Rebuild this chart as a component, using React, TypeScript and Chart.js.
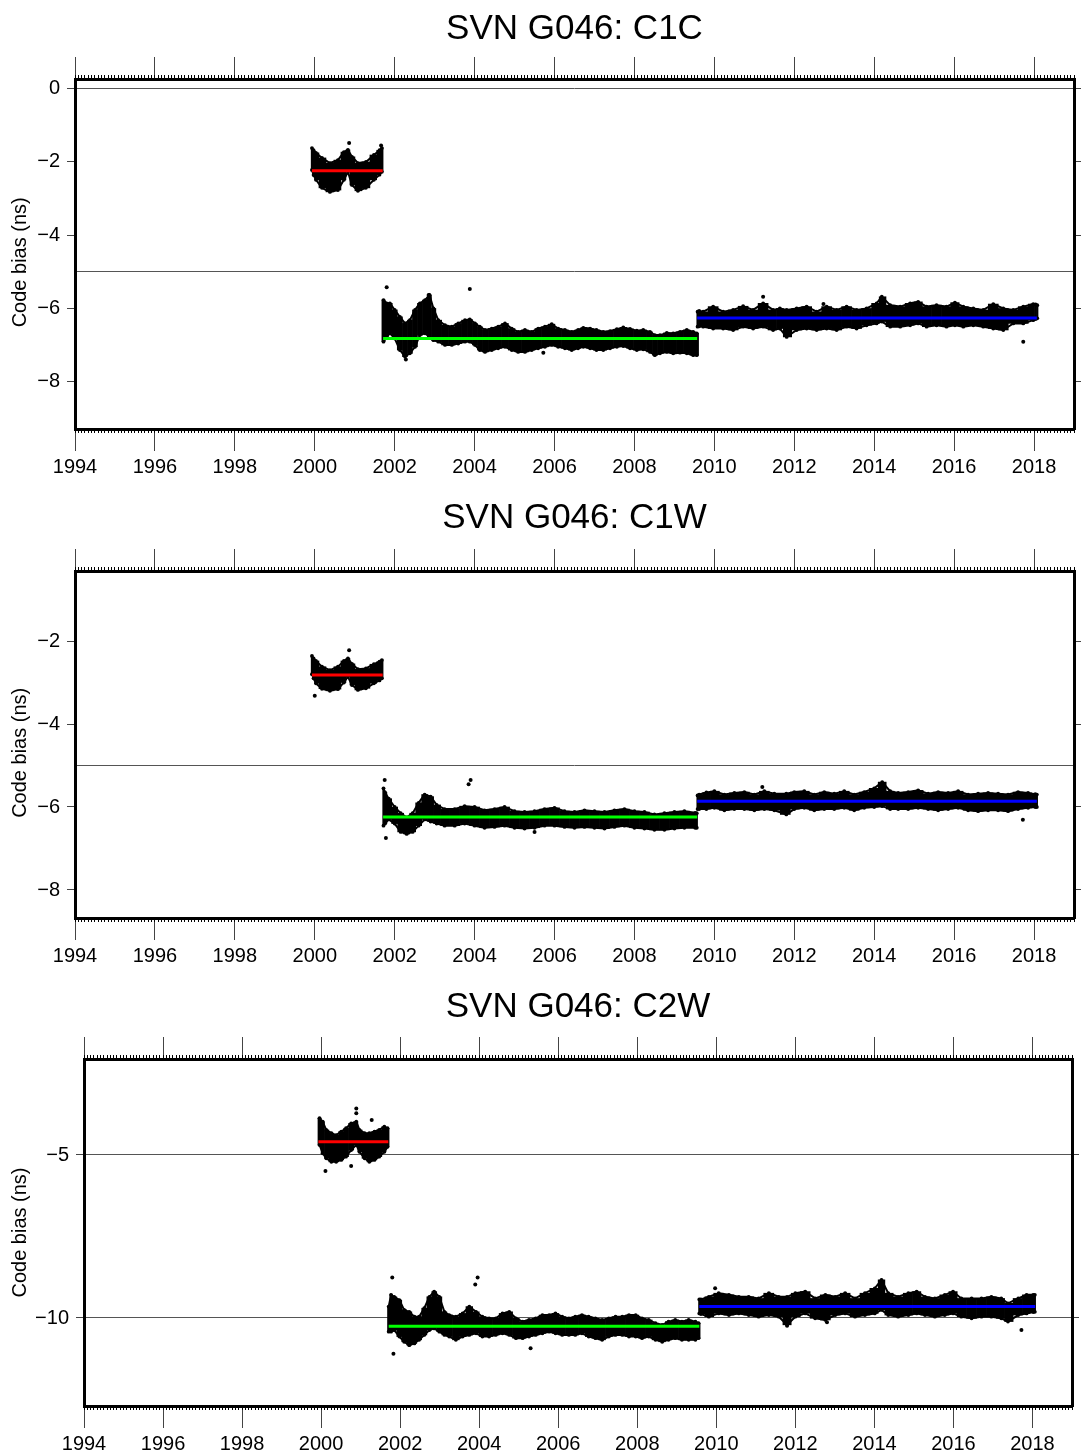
import React, { useEffect, useRef } from "react";
import { Chart, registerables } from "chart.js";
Chart.register(...registerables);

const FONT = "'Liberation Sans', Arial, Helvetica, sans-serif";
const XMIN = 1994;
const XMAX = 2019;
const xTickYears = [1994, 1996, 1998, 2000, 2002, 2004, 2006, 2008, 2010, 2012, 2014, 2016, 2018];
const segColors = ["#ff0000", "#00ff00", "#0000ff"];
const yAxisTitle = "Code bias (ns)";

// ---------- Panel 1: C1C ----------
const c1cYearA = [1999.93, 1999.97, 2000.03, 2000.18, 2000.38, 2000.58, 2000.73, 2000.83, 2000.93, 2001.08, 2001.28, 2001.48, 2001.62, 2001.68];
const c1cHiA = [-1.62, -1.68, -1.75, -1.89, -2.03, -1.95, -1.73, -1.67, -1.86, -2.03, -2.0, -1.81, -1.68, -1.62];
const c1cLoA = [-2.22, -2.36, -2.49, -2.71, -2.82, -2.77, -2.49, -2.27, -2.63, -2.79, -2.71, -2.49, -2.35, -2.27];
const c1cYearB = [2001.72, 2001.8, 2001.88, 2002.0, 2002.13, 2002.26, 2002.38, 2002.51, 2002.63, 2002.76, 2002.87, 2002.97, 2003.09, 2003.26, 2003.43, 2003.59, 2003.76, 2003.88, 2004.01, 2004.13, 2004.26, 2004.43, 2004.59, 2004.76, 2004.93, 2005.09, 2005.26, 2005.43, 2005.59, 2005.76, 2005.93, 2006.09, 2006.26, 2006.43, 2006.59, 2006.72, 2006.89, 2007.05, 2007.22, 2007.39, 2007.56, 2007.72, 2007.89, 2008.06, 2008.22, 2008.39, 2008.51, 2008.64, 2008.81, 2008.97, 2009.14, 2009.31, 2009.47, 2009.56];
const c1cHiB = [-5.78, -5.87, -5.87, -6.05, -6.24, -6.42, -6.33, -6.05, -5.87, -5.78, -5.64, -6.01, -6.33, -6.47, -6.51, -6.42, -6.33, -6.31, -6.42, -6.51, -6.6, -6.56, -6.51, -6.42, -6.56, -6.65, -6.6, -6.65, -6.56, -6.51, -6.44, -6.56, -6.6, -6.65, -6.6, -6.54, -6.56, -6.6, -6.65, -6.63, -6.58, -6.53, -6.57, -6.62, -6.6, -6.65, -6.74, -6.74, -6.68, -6.69, -6.65, -6.6, -6.65, -6.69];
const c1cLoB = [-6.92, -6.79, -6.69, -6.83, -7.15, -7.33, -7.24, -7.06, -6.74, -6.69, -6.79, -6.88, -6.92, -7.01, -7.01, -6.97, -6.92, -6.92, -7.01, -7.15, -7.2, -7.15, -7.1, -7.06, -7.15, -7.2, -7.2, -7.15, -7.1, -7.06, -7.01, -7.06, -7.1, -7.15, -7.1, -7.06, -7.1, -7.15, -7.15, -7.1, -7.06, -7.04, -7.1, -7.15, -7.13, -7.2, -7.29, -7.24, -7.2, -7.24, -7.22, -7.24, -7.29, -7.29];
const c1cYearC = [2009.58, 2009.62, 2009.72, 2009.97, 2010.22, 2010.47, 2010.72, 2010.97, 2011.22, 2011.47, 2011.64, 2011.81, 2012.06, 2012.31, 2012.56, 2012.81, 2013.06, 2013.31, 2013.56, 2013.81, 2014.06, 2014.19, 2014.4, 2014.65, 2014.9, 2015.1, 2015.31, 2015.56, 2015.81, 2016.02, 2016.23, 2016.48, 2016.73, 2016.98, 2017.23, 2017.48, 2017.73, 2017.98, 2018.04, 2018.08];
const c1cHiC = [-6.1, -6.08, -6.1, -5.96, -6.1, -6.05, -5.95, -6.05, -5.87, -6.05, -6.01, -6.05, -6.01, -5.96, -6.1, -5.96, -6.05, -5.96, -6.05, -6.01, -5.87, -5.69, -5.92, -5.96, -5.87, -5.83, -5.96, -5.92, -5.96, -5.85, -5.96, -6.01, -6.05, -5.89, -6.01, -6.05, -5.96, -5.89, -5.9, -5.92];
const c1cLoC = [-6.51, -6.5, -6.51, -6.56, -6.56, -6.6, -6.51, -6.56, -6.51, -6.6, -6.56, -6.79, -6.6, -6.56, -6.6, -6.56, -6.6, -6.51, -6.56, -6.47, -6.42, -6.37, -6.51, -6.51, -6.47, -6.42, -6.51, -6.47, -6.51, -6.47, -6.51, -6.47, -6.51, -6.56, -6.6, -6.42, -6.42, -6.33, -6.3, -6.28];
const c1cOutYear = [2000.86, 2001.66, 2001.8, 2003.88, 2002.28, 2002.85, 2011.22, 2012.73, 2017.73, 2005.72];
const c1cOutVal = [-1.48, -1.55, -5.43, -5.48, -7.41, -5.64, -5.69, -5.89, -6.92, -7.22];
const c1cMeans = [-2.24, -6.83, -6.27];
const c1cYTicks = [0, -2, -4, -6, -8];
const c1cGrid = [0, -5];

// ---------- Panel 2: C1W ----------
const c1wYearA = [1999.93, 1999.97, 2000.03, 2000.18, 2000.38, 2000.58, 2000.73, 2000.83, 2000.93, 2001.08, 2001.28, 2001.48, 2001.62, 2001.68];
const c1wHiA = [-2.36, -2.42, -2.48, -2.62, -2.7, -2.62, -2.48, -2.42, -2.55, -2.68, -2.66, -2.56, -2.5, -2.46];
const c1wLoA = [-2.8, -2.9, -3.02, -3.15, -3.2, -3.16, -3.0, -2.86, -3.06, -3.18, -3.14, -3.02, -2.95, -2.9];
const c1wYearB = [2001.72, 2001.76, 2001.85, 2002.0, 2002.15, 2002.3, 2002.45, 2002.6, 2002.75, 2002.9, 2003.05, 2003.25, 2003.5, 2003.75, 2004.0, 2004.25, 2004.5, 2004.75, 2005.0, 2005.25, 2005.5, 2005.75, 2006.0, 2006.25, 2006.5, 2006.75, 2007.0, 2007.25, 2007.5, 2007.75, 2008.0, 2008.25, 2008.5, 2008.75, 2009.0, 2009.25, 2009.52, 2009.56];
const c1wHiB = [-5.55, -5.65, -5.8, -6.0, -6.15, -6.25, -6.15, -5.9, -5.7, -5.75, -5.95, -6.05, -6.05, -5.98, -6.0, -6.08, -6.05, -6.0, -6.1, -6.12, -6.1, -6.05, -6.02, -6.1, -6.12, -6.08, -6.1, -6.12, -6.08, -6.05, -6.1, -6.12, -6.18, -6.15, -6.12, -6.1, -6.14, -6.15];
const c1wLoB = [-6.45, -6.4, -6.3, -6.4, -6.6, -6.65, -6.6, -6.45, -6.3, -6.35, -6.4, -6.45, -6.45, -6.4, -6.45, -6.5, -6.48, -6.45, -6.5, -6.52, -6.5, -6.45, -6.45, -6.48, -6.5, -6.48, -6.5, -6.52, -6.48, -6.45, -6.5, -6.52, -6.55, -6.55, -6.52, -6.5, -6.5, -6.5];
const c1wYearC = [2009.58, 2009.62, 2009.8, 2010.0, 2010.25, 2010.5, 2010.75, 2011.0, 2011.25, 2011.5, 2011.8, 2012.0, 2012.25, 2012.5, 2012.75, 2013.0, 2013.25, 2013.5, 2013.75, 2014.0, 2014.2, 2014.4, 2014.6, 2014.85, 2015.1, 2015.35, 2015.6, 2015.85, 2016.1, 2016.35, 2016.6, 2016.85, 2017.1, 2017.35, 2017.6, 2017.85, 2018.03, 2018.07];
const c1wHiC = [-5.72, -5.7, -5.65, -5.62, -5.7, -5.66, -5.64, -5.7, -5.62, -5.68, -5.68, -5.64, -5.62, -5.7, -5.64, -5.68, -5.62, -5.7, -5.64, -5.55, -5.4, -5.62, -5.66, -5.64, -5.6, -5.68, -5.64, -5.66, -5.62, -5.7, -5.68, -5.66, -5.68, -5.7, -5.64, -5.66, -5.69, -5.7];
const c1wLoC = [-6.05, -6.05, -6.05, -6.02, -6.08, -6.05, -6.05, -6.08, -6.05, -6.08, -6.18, -6.05, -6.02, -6.08, -6.05, -6.05, -6.02, -6.08, -6.02, -6.0, -5.98, -6.05, -6.05, -6.05, -6.02, -6.05, -6.08, -6.05, -6.02, -6.08, -6.1, -6.08, -6.08, -6.1, -6.05, -6.02, -6.0, -6.0];
const c1wOutYear = [2000.86, 2000.0, 2001.75, 2003.9, 2003.85, 2001.78, 2005.5, 2017.72, 2011.2];
const c1wOutVal = [-2.22, -3.32, -5.35, -5.35, -5.45, -6.75, -6.6, -6.31, -5.52];
const c1wMeans = [-2.82, -6.24, -5.86];
const c1wYTicks = [-2, -4, -6, -8];
const c1wGrid = [-5];

// ---------- Panel 3: C2W ----------
const c2wYearA = [1999.96, 2000.04, 2000.13, 2000.26, 2000.38, 2000.51, 2000.63, 2000.76, 2000.89, 2000.97, 2001.1, 2001.22, 2001.35, 2001.47, 2001.6, 2001.68];
const c2wHiA = [-3.87, -3.98, -4.23, -4.33, -4.39, -4.28, -4.18, -4.03, -3.98, -4.23, -4.33, -4.33, -4.28, -4.23, -4.13, -4.18];
const c2wLoA = [-4.69, -4.95, -5.1, -5.21, -5.21, -5.15, -5.05, -4.85, -4.69, -4.9, -5.1, -5.21, -5.15, -5.05, -4.9, -4.75];
const c2wYearB = [2001.71, 2001.77, 2001.85, 2001.98, 2002.1, 2002.23, 2002.36, 2002.48, 2002.61, 2002.74, 2002.86, 2002.99, 2003.12, 2003.24, 2003.41, 2003.58, 2003.75, 2003.92, 2004.08, 2004.25, 2004.42, 2004.59, 2004.76, 2004.93, 2005.1, 2005.26, 2005.43, 2005.6, 2005.77, 2005.93, 2006.1, 2006.27, 2006.43, 2006.6, 2006.77, 2006.94, 2007.11, 2007.28, 2007.45, 2007.62, 2007.79, 2007.96, 2008.12, 2008.29, 2008.46, 2008.63, 2008.79, 2008.96, 2009.13, 2009.3, 2009.47, 2009.55];
const c2wHiB = [-9.65, -9.29, -9.35, -9.45, -9.75, -9.81, -9.96, -9.96, -9.7, -9.35, -9.19, -9.35, -9.81, -9.91, -9.96, -9.86, -9.65, -9.81, -9.96, -10.01, -10.01, -9.86, -9.81, -10.01, -10.11, -10.06, -10.01, -9.91, -9.91, -9.86, -9.96, -10.01, -9.96, -9.91, -9.96, -10.01, -10.06, -10.01, -9.96, -9.96, -9.91, -9.91, -10.01, -10.06, -10.16, -10.21, -10.11, -10.06, -10.11, -10.06, -10.11, -10.16];
const c2wLoB = [-10.42, -10.42, -10.37, -10.57, -10.73, -10.83, -10.78, -10.67, -10.52, -10.37, -10.32, -10.42, -10.52, -10.57, -10.67, -10.57, -10.52, -10.47, -10.57, -10.57, -10.52, -10.47, -10.52, -10.62, -10.62, -10.57, -10.52, -10.47, -10.42, -10.47, -10.52, -10.52, -10.52, -10.47, -10.57, -10.62, -10.67, -10.57, -10.52, -10.52, -10.57, -10.57, -10.62, -10.57, -10.67, -10.73, -10.67, -10.62, -10.67, -10.67, -10.67, -10.62];
const c2wYearC = [2009.57, 2009.61, 2009.81, 2010.06, 2010.32, 2010.57, 2010.82, 2011.07, 2011.33, 2011.58, 2011.79, 2012.0, 2012.25, 2012.5, 2012.76, 2013.01, 2013.26, 2013.51, 2013.76, 2014.01, 2014.18, 2014.35, 2014.6, 2014.86, 2015.07, 2015.28, 2015.53, 2015.78, 2015.99, 2016.2, 2016.46, 2016.71, 2016.96, 2017.21, 2017.38, 2017.64, 2017.85, 2018.02, 2018.06];
const c2wHiC = [-9.43, -9.43, -9.35, -9.24, -9.29, -9.35, -9.35, -9.4, -9.24, -9.35, -9.35, -9.24, -9.19, -9.4, -9.29, -9.35, -9.24, -9.4, -9.24, -9.09, -8.83, -9.24, -9.35, -9.24, -9.19, -9.35, -9.4, -9.29, -9.19, -9.4, -9.4, -9.4, -9.35, -9.4, -9.55, -9.4, -9.29, -9.29, -9.29];
const c2wLoC = [-9.86, -9.88, -9.96, -9.86, -9.91, -9.86, -9.91, -9.96, -9.91, -9.96, -10.21, -9.96, -9.86, -10.01, -10.06, -9.91, -9.86, -9.96, -9.91, -9.86, -9.75, -9.91, -9.96, -9.91, -9.86, -9.91, -9.96, -9.91, -9.86, -9.96, -10.01, -9.96, -9.96, -10.01, -10.11, -9.91, -9.86, -9.82, -9.81];
const c2wOutYear = [2000.89, 2000.89, 2000.11, 2000.76, 2001.28, 2001.8, 2003.96, 2003.9, 2001.83, 2005.3, 2002.23, 2009.97, 2017.72, 2011.79, 2012.8];
const c2wOutVal = [-3.57, -3.72, -5.49, -5.34, -3.93, -8.76, -8.76, -8.97, -11.1, -10.93, -10.83, -9.09, -10.37, -10.24, -10.13];
const c2wMeans = [-4.59, -10.25, -9.65];
const c2wYTicks = [-5, -10];
const c2wGrid = [-5, -10];

// segment time limits (start / end) for the three arcs
const segStart = [1999.93, 2001.71, 2009.57];
const segEnd = [2001.7, 2009.57, 2018.07];

type Seg = { yr: number[]; hi: number[]; lo: number[]; mean: number; start: number; end: number };
type PanelSpec = {
  title: string;
  segs: Seg[];
  outYr: number[];
  outVal: number[];
  yMin: number;
  yMax: number;
  yTicks: number[];
  yGrid: number[];
  height: number;
  left: number;
  right: number;
  top: number;
  bottom: number;
  titleCenter: number;
  yTitlePad: number;
};

function mkSegs(yrs: number[][], his: number[][], los: number[][], means: number[]): Seg[] {
  return yrs.map((yr, i) => ({ yr, hi: his[i], lo: los[i], mean: means[i], start: segStart[i], end: segEnd[i] }));
}

const panels: PanelSpec[] = [
  {
    title: "SVN G046: C1C",
    segs: mkSegs([c1cYearA, c1cYearB, c1cYearC], [c1cHiA, c1cHiB, c1cHiC], [c1cLoA, c1cLoB, c1cLoC], c1cMeans),
    outYr: c1cOutYear,
    outVal: c1cOutVal,
    yMin: -9.31,
    yMax: 0.27,
    yTicks: c1cYTicks,
    yGrid: c1cGrid,
    height: 490,
    left: 75,
    right: 1074,
    top: 79,
    bottom: 429,
    titleCenter: 29,
    yTitlePad: 3,
  },
  {
    title: "SVN G046: C1W",
    segs: mkSegs([c1wYearA, c1wYearB, c1wYearC], [c1wHiA, c1wHiB, c1wHiC], [c1wLoA, c1wLoB, c1wLoC], c1wMeans),
    outYr: c1wOutYear,
    outVal: c1wOutVal,
    yMin: -8.675,
    yMax: -0.313,
    yTicks: c1wYTicks,
    yGrid: c1wGrid,
    height: 490,
    left: 75,
    right: 1074,
    top: 81,
    bottom: 428,
    titleCenter: 28,
    yTitlePad: 3,
  },
  {
    title: "SVN G046: C2W",
    segs: mkSegs([c2wYearA, c2wYearB, c2wYearC], [c2wHiA, c2wHiB, c2wHiC], [c2wLoA, c2wLoB, c2wLoC], c2wMeans),
    outYr: c2wOutYear,
    outVal: c2wOutVal,
    yMin: -12.7,
    yMax: -2.055,
    yTicks: c2wYTicks,
    yGrid: c2wGrid,
    height: 476,
    left: 84,
    right: 1072,
    top: 79,
    bottom: 426,
    titleCenter: 27,
    yTitlePad: 0,
  },
];

const TITLE_SIZE = 35;
const fmt = (v: number) => (v === 0 ? "0" : v < 0 ? "\u2212" + Math.abs(v) : String(v));

function monthlyTicks() {
  const t: { value: number }[] = [];
  for (let m = 0; m <= (XMAX - XMIN) * 12; m++) t.push({ value: XMIN + m / 12 });
  return t;
}

function buildConfig(p: PanelSpec): any {
  const datasets: any[] = [];
  p.segs.forEach((s) => {
    // dense band of daily estimates: floating bars from low to high envelope
    datasets.push({
      type: "bar",
      data: s.yr.map((x, i) => ({ x, y: [s.lo[i], s.hi[i]] })),
      backgroundColor: "#000",
      borderWidth: 0,
      barThickness: "flex",
      barPercentage: 1,
      categoryPercentage: 1,
      stack: "band",
      order: 4,
    });
    // dotted envelope edges
    [s.hi, s.lo].forEach((arr) => {
      datasets.push({
        type: "line",
        data: s.yr.map((x, i) => ({ x, y: arr[i] })),
        borderColor: "#000",
        borderWidth: 2,
        pointRadius: 1.9,
        pointBackgroundColor: "#000",
        pointBorderWidth: 0,
        fill: false,
        tension: 0,
        order: 3,
      });
    });
  });
  datasets.push({
    type: "scatter",
    data: p.outYr.map((x, i) => ({ x, y: p.outVal[i] })),
    pointRadius: 2,
    backgroundColor: "#000",
    pointBackgroundColor: "#000",
    pointBorderWidth: 0,
    showLine: false,
    fill: false,
    order: 2,
  });
  p.segs.forEach((s, i) => {
    datasets.push({
      type: "line",
      data: [
        { x: s.start, y: s.mean },
        { x: s.end, y: s.mean },
      ],
      borderColor: segColors[i],
      borderWidth: 3,
      pointRadius: 0,
      fill: false,
      order: 1,
    });
  });

  const lh = TITLE_SIZE * 1.2;
  const padTop = p.titleCenter - lh / 2;
  const titleBoxH = padTop + lh;
  const yearTicks = (s: any) => {
    s.ticks = xTickYears.map((v) => ({ value: v }));
  };
  const monthTicks = (s: any) => {
    s.ticks = monthlyTicks();
  };
  const yLabelTicks = (s: any) => {
    s.ticks = p.yTicks.map((v) => ({ value: v }));
  };

  return {
    type: "line",
    data: { datasets },
    options: {
      animation: false,
      responsive: false,
      devicePixelRatio: 1,
      events: [],
      layout: { padding: 0 },
      plugins: {
        legend: { display: false },
        tooltip: { enabled: false },
        title: {
          display: true,
          fullSize: false,
          text: p.title,
          color: "#000",
          font: { family: FONT, size: TITLE_SIZE, weight: "normal", lineHeight: 1.2 },
          padding: { top: padTop, bottom: 0 },
        },
      },
      scales: {
        x: {
          type: "linear",
          position: "bottom",
          min: XMIN,
          max: XMAX,
          offset: false,
          weight: 10,
          afterBuildTicks: yearTicks,
          ticks: {
            autoSkip: false,
            maxRotation: 0,
            minRotation: 0,
            padding: 4,
            color: "#000",
            font: { family: FONT, size: 20 },
            callback: (v: number) => String(v),
          },
          grid: { drawOnChartArea: false, drawTicks: true, tickLength: 22, tickColor: "#444", tickWidth: 1, offset: false },
          border: { display: true, color: "#000", width: 3 },
          afterFit: (s: any) => {
            s.height = p.height - p.bottom;
          },
        },
        xMinor: {
          type: "linear",
          position: "bottom",
          min: XMIN,
          max: XMAX,
          weight: 0,
          afterBuildTicks: monthTicks,
          ticks: { display: false, autoSkip: false },
          grid: { drawOnChartArea: false, drawTicks: true, tickLength: 4, tickColor: "#000", tickWidth: 1 },
          border: { display: false },
          afterFit: (s: any) => {
            s.height = 0;
          },
        },
        xTop: {
          type: "linear",
          position: "top",
          min: XMIN,
          max: XMAX,
          weight: 10,
          afterBuildTicks: yearTicks,
          ticks: { display: false, autoSkip: false },
          grid: { drawOnChartArea: false, drawTicks: true, tickLength: 22, tickColor: "#444", tickWidth: 1 },
          border: { display: true, color: "#000", width: 3 },
          afterFit: (s: any) => {
            s.height = p.top - titleBoxH;
          },
        },
        xTopMinor: {
          type: "linear",
          position: "top",
          min: XMIN,
          max: XMAX,
          weight: 0,
          afterBuildTicks: monthTicks,
          ticks: { display: false, autoSkip: false },
          grid: { drawOnChartArea: false, drawTicks: true, tickLength: 4, tickColor: "#000", tickWidth: 1 },
          border: { display: false },
          afterFit: (s: any) => {
            s.height = 0;
          },
        },
        y: {
          type: "linear",
          position: "left",
          min: p.yMin,
          max: p.yMax,
          stacked: false,
          weight: 10,
          afterBuildTicks: yLabelTicks,
          ticks: {
            padding: 7,
            color: "#000",
            font: { family: FONT, size: 20 },
            callback: (v: number) => fmt(v),
          },
          grid: { drawOnChartArea: false, drawTicks: true, tickLength: 8, tickColor: "#444", tickWidth: 1 },
          border: { display: true, color: "#000", width: 3 },
          title: {
            display: true,
            text: yAxisTitle + "\u00a0".repeat(p.yTitlePad),
            color: "#000",
            font: { family: FONT, size: 20, lineHeight: 1.2 },
            padding: { top: 8, bottom: 0 },
          },
          afterFit: (s: any) => {
            s.width = p.left;
          },
        },
        yGrid: {
          type: "linear",
          position: "left",
          min: p.yMin,
          max: p.yMax,
          weight: 0,
          afterBuildTicks: (s: any) => {
            s.ticks = p.yGrid.map((v) => ({ value: v }));
          },
          ticks: { display: false },
          grid: { drawOnChartArea: true, drawTicks: false, color: "#555", lineWidth: 1 },
          border: { display: false },
          afterFit: (s: any) => {
            s.width = 0;
          },
        },
        yRight: {
          type: "linear",
          position: "right",
          min: p.yMin,
          max: p.yMax,
          weight: 10,
          afterBuildTicks: yLabelTicks,
          ticks: { display: false },
          grid: { drawOnChartArea: false, drawTicks: true, tickLength: 7, tickColor: "#444", tickWidth: 1 },
          border: { display: true, color: "#000", width: 3 },
          afterFit: (s: any) => {
            s.width = 1081 - p.right;
          },
        },
      },
    },
  };
}

function PanelChart({ spec }: { spec: PanelSpec }) {
  const ref = useRef<HTMLCanvasElement | null>(null);
  useEffect(() => {
    if (!ref.current) return;
    const chart = new Chart(ref.current, buildConfig(spec));
    return () => chart.destroy();
  }, [spec]);
  return (
    <canvas
      ref={ref}
      width={1081}
      height={spec.height}
      style={{ display: "block", width: 1081, height: spec.height }}
    />
  );
}

export default function App() {
  return (
    <div style={{ position: "absolute", left: 0, top: 0, width: 1081, height: 1456, background: "#fff" }}>
      {panels.map((p) => (
        <PanelChart key={p.title} spec={p} />
      ))}
    </div>
  );
}
